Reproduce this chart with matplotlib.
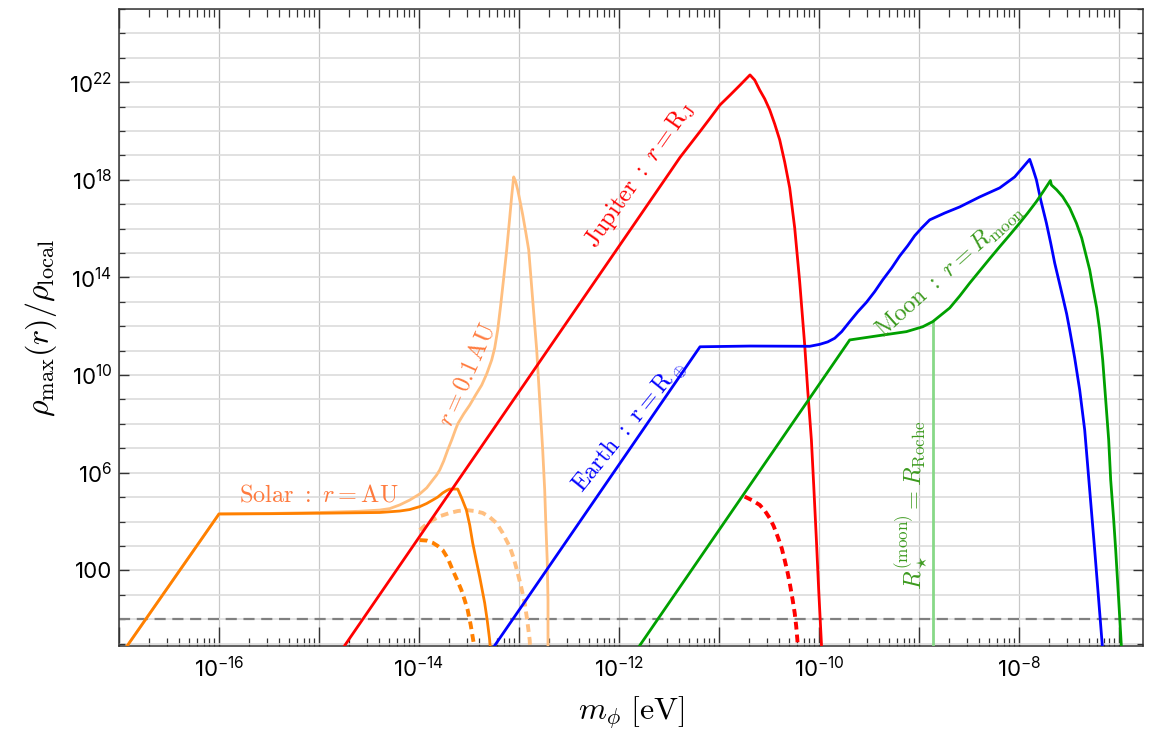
import numpy as np
import matplotlib
matplotlib.use('Agg')
import matplotlib.pyplot as plt
from matplotlib.ticker import FixedLocator, FuncFormatter, NullFormatter

# all values are log10(m_phi / eV) and log10(rho_max / rho_local)
solar_lm = [-16.97, -16.0, -15.5, -15.0, -14.6, -14.393, -14.193, -14.093, -13.993, -13.923,
            -13.863, -13.813, -13.763, -13.723, -13.693, -13.613, -13.573, -13.526, -13.493,
            -13.463, -13.428, -13.393, -13.343, -13.318, -13.293, -13.278]
solar_lr = [-1.4, 4.31, 4.32, 4.34, 4.36, 4.37, 4.43, 4.49, 4.61, 4.74,
            4.88, 5.00, 5.17, 5.27, 5.33, 5.33, 4.96, 4.47, 3.86,
            3.12, 2.42, 1.73, 0.66, -0.04, -0.86, -1.68]
solar_dash_lm = [-13.993, -13.923, -13.863, -13.813, -13.763, -13.713, -13.663, -13.618,
                 -13.576, -13.543, -13.513, -13.483, -13.453, -13.433]
solar_dash_lr = [3.24, 3.22, 3.13, 3.00, 2.83, 2.50, 2.01, 1.60,
                 1.19, 0.78, 0.37, -0.24, -0.98, -1.68]

near_lm = [-16.97, -16.0, -15.5, -15.0, -14.6, -14.393, -14.293, -14.193, -14.093, -13.993,
           -13.923, -13.863, -13.823, -13.793, -13.753, -13.713, -13.673, -13.633, -13.61,
           -13.553, -13.493, -13.433, -13.373, -13.323, -13.273, -13.243, -13.213, -13.183,
           -13.153, -13.123, -13.093, -13.073, -13.053, -13.033, -13.013, -12.988, -12.963,
           -12.933, -12.903, -12.883, -12.863, -12.843, -12.823, -12.793, -12.763, -12.743,
           -12.733, -12.718, -12.71, -12.71]
near_lr = [-1.4, 4.31, 4.33, 4.37, 4.42, 4.47, 4.53, 4.68, 4.88, 5.13,
           5.38, 5.70, 5.91, 6.11, 6.48, 6.93, 7.34, 7.79, 8.02,
           8.41, 8.77, 9.19, 9.59, 10.05, 10.62, 11.11, 11.85, 12.87,
           13.98, 15.13, 16.44, 17.34, 18.12, 17.92, 17.59, 17.09, 16.57,
           15.87, 15.13, 14.11, 13.08, 12.05, 11.03, 8.98, 6.93, 5.29,
           4.06, 2.42, 0.78, -1.68]
near_dash_lm = [-13.993, -13.933, -13.863, -13.783, -13.693, -13.613, -13.526, -13.443,
                -13.363, -13.293, -13.226, -13.163, -13.093, -13.053, -13.013, -12.978,
                -12.943, -12.918, -12.893, -12.883]
near_dash_lr = [3.65, 3.86, 4.06, 4.23, 4.35, 4.43, 4.47, 4.43,
                4.35, 4.18, 3.94, 3.53, 2.97, 2.50, 1.89, 1.31,
                0.66, -0.04, -0.86, -1.68]

red_lm = [-14.83, -11.49, -11.39, -11.29, -11.19, -11.09, -10.99, -10.89, -10.79, -10.69, -10.643,
          -10.593, -10.543, -10.493, -10.443, -10.393, -10.343, -10.293, -10.243, -10.193,
          -10.143, -10.113, -10.076, -10.053, -10.026, -10.003, -9.976, -9.97]
red_lr = [-1.6, 18.32, 18.92, 19.45, 19.98, 20.52, 21.07, 21.47, 21.88, 22.30, 22.09,
          21.68, 21.32, 20.87, 20.29, 19.64, 18.73, 17.67, 16.03, 13.82,
          11.23, 9.39, 7.34, 5.50, 3.24, 1.19, -0.98, -1.68]
red_dash_lm = [-10.743, -10.673, -10.593, -10.543, -10.493, -10.453, -10.413, -10.373,
               -10.343, -10.313, -10.293, -10.263, -10.243, -10.228, -10.216, -10.208]
red_dash_lr = [5.02, 4.88, 4.68, 4.45, 4.14, 3.81, 3.38, 2.91,
               2.42, 1.89, 1.48, 0.78, 0.25, -0.29, -0.86, -1.68]

blue_lm = [-13.33, -11.19, -10.69, -10.093, -9.993, -9.913, -9.843, -9.773, -9.693, -9.613,
           -9.526, -9.443, -9.363, -9.273, -9.193, -9.113, -9.043, -8.973, -8.893, -8.743,
           -8.593, -8.393, -8.193, -8.043, -7.893, -7.863, -7.826, -7.783, -7.726,
           -7.683, -7.643, -7.603, -7.563, -7.523, -7.493, -7.443, -7.393, -7.343, -7.293,
           -7.243, -7.203, -7.166, -7.161]
blue_lr = [-1.6, 11.16, 11.19, 11.18, 11.26, 11.36, 11.51, 11.78, 12.19, 12.59,
           12.98, 13.42, 13.90, 14.39, 14.88, 15.30, 15.71, 16.03, 16.36, 16.64,
           16.89, 17.30, 17.67, 18.12, 18.84, 18.48, 18.00, 17.18, 16.23,
           15.41, 14.59, 13.90, 13.21, 12.50, 11.85, 10.70, 9.39, 7.75, 5.29,
           2.83, 0.78, -1.13, -1.68]

green_lm = [-11.88, -9.693, -9.363, -9.126, -8.963, -8.863, -8.793, -8.693, -8.593, -8.493,
            -8.393, -8.293, -8.193, -8.093, -7.993, -7.913, -7.826, -7.753,
            -7.686, -7.676, -7.623, -7.563, -7.493, -7.426, -7.373, -7.326, -7.293, -7.263,
            -7.223, -7.193, -7.163, -7.133, -7.103, -7.083, -7.053, -7.033, -7.003, -6.976,
            -6.971]
green_lr = [-1.6, 11.44, 11.64, 11.78, 11.98, 12.19, 12.42, 12.75, 13.24, 13.77,
            14.27, 14.77, 15.26, 15.74, 16.23, 16.64, 17.11, 17.55,
            17.97, 17.79, 17.59, 17.31, 16.85, 16.23, 15.62, 14.85, 14.31, 13.62,
            12.75, 11.85, 10.62, 8.98, 7.34, 5.70, 4.06, 2.83, 0.78, -1.13,
            -1.68]

roche_lm = [-8.86, -8.86]
roche_lr = [12.19, -1.7]

plt.rcParams['font.family'] = ['Inter', 'DejaVu Sans']
plt.rcParams['mathtext.fontset'] = 'custom'
plt.rcParams['mathtext.rm'] = 'Inter'
plt.rcParams['mathtext.it'] = 'Inter:italic'
plt.rcParams['mathtext.bf'] = 'Inter:bold'

fig = plt.figure(figsize=(11.49, 7.33), dpi=100)
ax = fig.add_axes([119 / 1149, 1 - 646 / 733, (1143 - 119) / 1149, (646 - 9) / 733])

def p(lm, lr):
    return 10.0 ** np.array(lm), 10.0 ** np.array(lr)

dash = (0, (2.0, 1.3))
ax.plot(*p(near_lm, near_lr), color='#ffbf80', lw=2.0, zorder=3)
ax.plot(*p(near_dash_lm, near_dash_lr), color='#ffbf80', lw=2.8, ls=dash, zorder=3)
ax.plot(*p(solar_lm, solar_lr), color='#ff8000', lw=2.0, zorder=4)
ax.plot(*p(solar_dash_lm, solar_dash_lr), color='#ff8000', lw=2.8, ls=dash, zorder=4)
ax.plot(*p(red_lm, red_lr), color='#ff0000', lw=2.0, zorder=4)
ax.plot(*p(red_dash_lm, red_dash_lr), color='#ff0000', lw=2.8, ls=dash, zorder=4)
ax.plot(*p(blue_lm, blue_lr), color='#0000ff', lw=2.0, zorder=4)
ax.plot(*p(green_lm, green_lr), color='#00a000', lw=2.0, zorder=4)
ax.plot(*p(roche_lm, roche_lr), color='#88d888', lw=2.0, zorder=3)
ax.axhline(1.0, color='#808080', lw=1.6, ls=(0, (5, 3)), zorder=2)

ax.set_xscale('log')
ax.set_yscale('log')
ax.set_xlim(1e-17, 10 ** -6.76)
ax.set_ylim(10 ** -1.1, 1e25)

# ticks
ax.xaxis.set_major_locator(FixedLocator(10.0 ** np.arange(-17, -6)))
ax.xaxis.set_minor_locator(FixedLocator([k * 10.0 ** e for e in range(-17, -6) for k in range(2, 10)]))
ax.xaxis.set_major_formatter(FuncFormatter(
    lambda v, _: r'$10^{%d}$' % round(np.log10(v)) if round(np.log10(v)) % 2 == 0 else ''))
ax.xaxis.set_minor_formatter(NullFormatter())
ylab = {2: '100', 6: r'$10^{6}$', 10: r'$10^{10}$', 14: r'$10^{14}$', 18: r'$10^{18}$', 22: r'$10^{22}$'}
ax.yaxis.set_major_locator(FixedLocator([10.0 ** e for e in ylab]))
ax.yaxis.set_minor_locator(FixedLocator(10.0 ** np.arange(-1, 26)))
ax.yaxis.set_major_formatter(FuncFormatter(lambda v, _: ylab.get(int(round(np.log10(v))), '')))
ax.yaxis.set_minor_formatter(NullFormatter())

ax.tick_params(which='both', direction='in', top=True, right=True, colors='#333333', labelcolor='black')
ax.tick_params(axis='x', which='major', length=14, width=1.0, labelsize=16, pad=7)
ax.tick_params(axis='x', which='minor', length=5.5, width=0.9)
ax.tick_params(axis='y', which='major', length=7, width=1.0, labelsize=16, pad=5)
ax.tick_params(axis='y', which='minor', length=4.5, width=0.9)

ax.grid(axis='x', which='major', color='#c8c8c8', lw=0.9, zorder=0)
ax.grid(axis='y', which='both', color='#dcdcdc', lw=1.2, zorder=0)
ax.set_axisbelow(True)
for s in ax.spines.values():
    s.set_color('#333333')
    s.set_linewidth(1.1)

ax.set_xlabel(r'$m_\phi\ [\mathrm{eV}]$', fontsize=23, math_fontfamily='cm', labelpad=10)
ax.set_ylabel(r'$\rho_\mathrm{max}(r)/\rho_\mathrm{local}$', fontsize=23, math_fontfamily='cm', labelpad=7)

# curve labels
def lab(lm, lr, s, c, rot):
    ax.text(10 ** lm, 10 ** lr, s, color=c, rotation=rot, fontsize=17.5, math_fontfamily='cm',
            ha='center', va='center', rotation_mode='anchor', zorder=5)

lab(-15.0, 5.09, r'$\mathrm{Solar}\ :\ r=\mathrm{AU}$', '#ff7a3d', 0)
lab(-13.52, 10.0, r'$r=0.1\,\mathrm{AU}$', '#ff7a3d', 66)
lab(-11.79, 18.2, r'$\mathrm{Jupiter}\ :\ r=\mathrm{R_J}$', '#ff0000', 55)
lab(-11.89, 7.88, r'$\mathrm{Earth}\ :\ \mathrm{r}=\mathrm{R}_\oplus$', '#0000ff', 51)
lab(-8.69, 14.3, r'$\mathrm{Moon}\ :\ r=R_\mathrm{moon}$', '#3c9a1e', 42)
lab(-9.07, 4.69, r'$R_\star^{(\mathrm{moon})}=R_\mathrm{Roche}$', '#3c9a1e', 90)

fig.savefig('out.png', dpi=100)
